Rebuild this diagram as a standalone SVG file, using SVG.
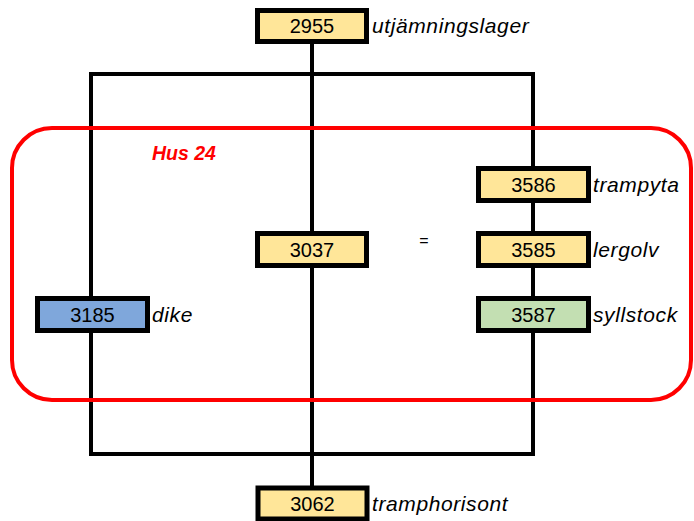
<svg xmlns="http://www.w3.org/2000/svg" width="694" height="521" viewBox="0 0 694 521">
<style>
.ln{stroke:#000;stroke-width:4;fill:none}
.box{stroke:#000;stroke-width:5}
.y{fill:#FFE699}
.b{fill:#7FA7DB}
.g{fill:#C3DFB2}
.num{font-family:"Liberation Sans",Arial,sans-serif;font-size:20px;fill:#000;text-anchor:middle}
.lbl{font-family:"Liberation Sans",Arial,sans-serif;font-size:21px;font-style:italic;letter-spacing:0.6px;fill:#000}
</style>
<rect width="694" height="521" fill="#fff"/>
<g id="connectors">
<path class="ln" d="M312 44V233 M312 266V488 M89 74H535 M91 74V454 M533 74V454 M89 454H535"/>
</g>
<g id="hus24">
<rect x="12" y="128" width="679" height="272" rx="40" ry="40" fill="none" stroke="#FF0000" stroke-width="4"/>
<text x="152" y="160" font-family="Liberation Sans,Arial,sans-serif" font-size="19.5" font-weight="bold" font-style="italic" fill="#FF0000">Hus 24</text>
</g>
<g id="n2955"><rect class="box y" x="257.5" y="10.5" width="109" height="31"/><text class="num" x="312" y="33">2955</text><text class="lbl" x="372" y="33">utjämningslager</text></g>
<g id="n3037"><rect class="box y" x="257.5" y="233.5" width="109" height="32"/><text class="num" x="312" y="257">3037</text></g>
<g id="eq"><text x="424" y="246" font-family="Liberation Sans,Arial,sans-serif" font-size="16" text-anchor="middle">=</text></g>
<g id="n3586"><rect class="box y" x="478.5" y="168.5" width="110" height="32"/><text class="num" x="533.5" y="192">3586</text><text class="lbl" x="593" y="192">trampyta</text></g>
<g id="n3585"><rect class="box y" x="478.5" y="233.5" width="110" height="32"/><text class="num" x="533.5" y="257">3585</text><text class="lbl" x="593" y="257">lergolv</text></g>
<g id="n3185"><rect class="box b" x="37.5" y="298.5" width="110" height="32"/><text class="num" x="92.5" y="322">3185</text><text class="lbl" x="152" y="322">dike</text></g>
<g id="n3587"><rect class="box g" x="478.5" y="298.5" width="110" height="32"/><text class="num" x="533.5" y="322">3587</text><text class="lbl" x="593" y="322">syllstock</text></g>
<g id="n3062"><rect class="box y" x="258" y="488" width="109" height="31"/><text class="num" x="312.5" y="511">3062</text><text class="lbl" x="372" y="511">tramphorisont</text></g>
</svg>
